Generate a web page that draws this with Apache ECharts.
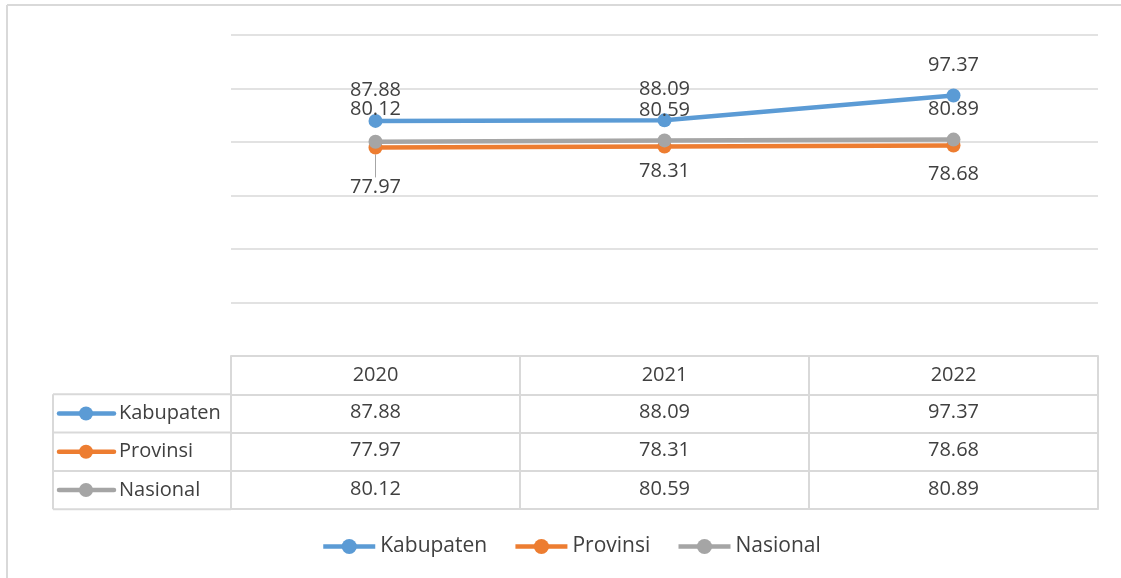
<!DOCTYPE html>
<html>
<head>
<meta charset="utf-8">
<script src="https://cdn.jsdelivr.net/npm/echarts@6/dist/echarts.min.js"></script>
<style>
  html, body { margin: 0; padding: 0; background: #fff; }
  #chart { width: 1121px; height: 578px; }
</style>
</head>
<body>
<div id="chart"></div>
<script>
// data
const years = ['2020', '2021', '2022'];
const seriesNames = ['Kabupaten', 'Provinsi', 'Nasional'];
const kabupaten = [87.88, 88.09, 97.37];
const provinsi = [77.97, 78.31, 78.68];
const nasional = [80.12, 80.59, 80.89];
const yTicks = [0, 20, 40, 60, 80, 100, 120];

const allValues = [kabupaten, provinsi, nasional];
const colors = ['#5B9BD5', '#ED7D31', '#A5A5A5'];
const textColor = '#404040';
const gridColor = '#d9d9d9';
const font = '"Open Sans", sans-serif';

// label placement (like the manual excel labels)
const labelPlace = [
  { pos: 'top', dist: [14, 14, 13] },
  { pos: 'bottom', dist: [23, 8, 12] },
  { pos: 'top', dist: [15, 13, 13] }
];

// table layout
const plotLeft = 231, plotRight = 1098, plotTop = 35, plotBottom = 356;
const rowH = 38.3;
const tableLeft = 53;

let myChart = echarts.init(document.getElementById('chart'));

let xAxes = [{
  type: 'category',
  data: years,
  boundaryGap: true,
  axisLine: { show: true, lineStyle: { color: gridColor, width: 2 } },
  axisTick: { show: true, interval: 0, length: rowH * 4, lineStyle: { color: gridColor, width: 2 } },
  axisLabel: { color: textColor, fontSize: 20, fontFamily: font, margin: 9 }
}];
allValues.forEach((vals, k) => {
  xAxes.push({
    type: 'category',
    data: years,
    position: 'bottom',
    offset: rowH * (k + 1),
    axisLine: { show: true, lineStyle: { color: gridColor, width: 2 } },
    axisTick: { show: false },
    axisLabel: {
      color: textColor, fontSize: 20, fontFamily: font, margin: 8,
      formatter: (v, i) => vals[i].toFixed(2)
    }
  });
});
xAxes.push({
  type: 'category',
  data: years,
  position: 'bottom',
  offset: rowH * 4,
  axisLine: { show: true, lineStyle: { color: gridColor, width: 2 } },
  axisTick: { show: false },
  axisLabel: { show: false }
});

// outer frame (left + top edges only visible)
let graphics = [
  { type: 'line', z: -10, shape: { x1: 7, y1: 5, x2: 7, y2: 578 }, style: { stroke: gridColor, lineWidth: 2 } },
  { type: 'line', z: -10, shape: { x1: 7, y1: 5, x2: 1121, y2: 5 }, style: { stroke: gridColor, lineWidth: 2 } }
];
// left column of table (series key)
graphics.push({
  type: 'line', z: 5,
  shape: { x1: tableLeft, y1: plotBottom + rowH, x2: tableLeft, y2: plotBottom + rowH * 4 },
  style: { stroke: gridColor, lineWidth: 2 }
});
seriesNames.forEach((name, k) => {
  let top = plotBottom + rowH * (k + 1);
  let cy = top + rowH / 2;
  graphics.push({
    type: 'line', z: 5,
    shape: { x1: tableLeft, y1: top, x2: plotLeft, y2: top },
    style: { stroke: gridColor, lineWidth: 2 }
  });
  graphics.push({
    type: 'line', z: 6,
    shape: { x1: 59, y1: cy, x2: 114, y2: cy },
    style: { stroke: colors[k], lineWidth: 4.5, lineCap: 'round' }
  });
  graphics.push({
    type: 'circle', z: 7,
    shape: { cx: 86, cy: cy, r: 7 },
    style: { fill: colors[k] }
  });
  graphics.push({
    type: 'text', z: 7,
    x: 119, y: cy,
    style: { text: name, fill: textColor, fontSize: 20, fontFamily: font, verticalAlign: 'middle' }
  });
});
graphics.push({
  type: 'line', z: 5,
  shape: { x1: tableLeft, y1: plotBottom + rowH * 4, x2: plotLeft, y2: plotBottom + rowH * 4 },
  style: { stroke: gridColor, lineWidth: 2 }
});

let series = seriesNames.map((name, k) => {
  let s = {
    name: name,
    type: 'line',
    xAxisIndex: 0,
    data: allValues[k].map((v, i) => {
      let item = {
        value: v,
        label: { position: labelPlace[k].pos, distance: labelPlace[k].dist[i] }
      };
      if (k === 1 && i === 0) {
        item.labelLine = { show: true, lineStyle: { color: '#a6a6a6', width: 1 } };
      }
      return item;
    }),
    symbol: 'circle',
    symbolSize: 14,
    color: colors[k],
    lineStyle: { width: 4.5, color: colors[k] },
    itemStyle: { color: colors[k] },
    label: {
      show: true,
      color: textColor,
      fontSize: 20,
      fontFamily: font,
      formatter: p => p.value.toFixed(2)
    }
  };
  if (k === 1) {
    // short vertical leader line under the first point
    s.labelLayout = function (params) {
      if (params.dataIndex !== 0) return {};
      let cx = params.rect.x + params.rect.width / 2;
      let y0 = params.rect.y + params.rect.height - 4;
      return { labelLinePoints: [[cx, y0], [cx + 0.5, y0 + 6], [cx + 1, y0 + 11]] };
    };
  }
  return s;
});

myChart.setOption({
  animation: false,
  backgroundColor: '#fff',
  color: colors,
  grid: {
    left: plotLeft,
    right: 1121 - plotRight,
    top: plotTop,
    bottom: 578 - plotBottom,
    containLabel: false
  },
  legend: {
    data: seriesNames,
    left: 316,
    top: 531,
    itemWidth: 52,
    itemHeight: 19,
    itemGap: 26,
    lineStyle: { width: 4.5 },
    textStyle: { color: textColor, fontSize: 21, fontFamily: font }
  },
  xAxis: xAxes,
  yAxis: {
    type: 'value',
    min: yTicks[0],
    max: yTicks[yTicks.length - 1],
    interval: yTicks[1] - yTicks[0],
    axisLabel: { show: false },
    axisLine: { show: false },
    axisTick: { show: false },
    splitLine: { lineStyle: { color: gridColor, width: 1.5 } }
  },
  graphic: graphics,
  series: series
});
</script>
</body>
</html>
